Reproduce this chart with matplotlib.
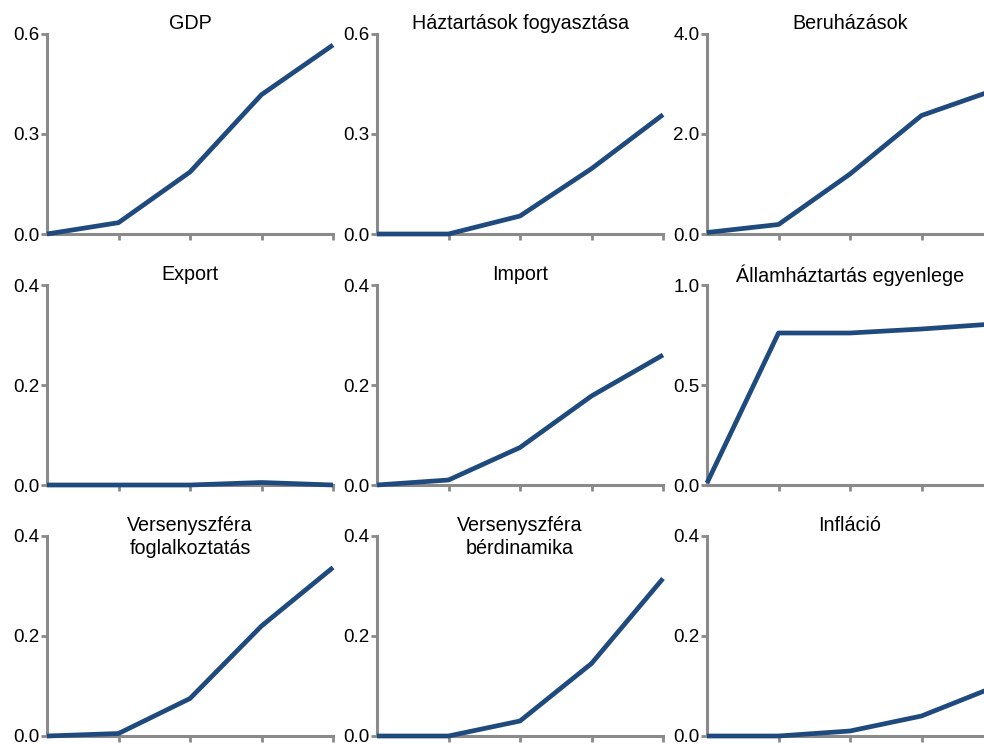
import numpy as np
import matplotlib.pyplot as plt

plt.rcParams['font.family'] = ['Liberation Sans', 'DejaVu Sans']

titles = ['GDP', 'Háztartások fogyasztása', 'Beruházások',
          'Export', 'Import', 'Államháztartás egyenlege',
          'Versenyszféra\nfoglalkoztatás', 'Versenyszféra\nbérdinamika', 'Infláció']

gdp = [0.0, 0.034, 0.186, 0.418, 0.567]
haztartas = [0.0, 0.0, 0.054, 0.196, 0.358]
beruhazas = [0.03, 0.19, 1.2, 2.37, 2.87]
export = [0.0, 0.0, 0.0, 0.005, 0.0]
imp = [0.0, 0.01, 0.075, 0.178, 0.26]
allamhaz = [0.01, 0.76, 0.76, 0.78, 0.805]
foglalk = [0.0, 0.005, 0.075, 0.22, 0.337]
berdin = [0.0, 0.0, 0.03, 0.145, 0.315]
inflacio = [0.0, 0.0, 0.01, 0.04, 0.097]

series = [gdp, haztartas, beruhazas, export, imp, allamhaz, foglalk, berdin, inflacio]
ymax = [0.6, 0.6, 4.0, 0.4, 0.4, 1.0, 0.4, 0.4, 0.4]

W, H = 984, 744
fig = plt.figure(figsize=(W / 100, H / 100), dpi=100)

lefts = [47, 377, 707]
tops = [34, 285, 536]
aw, ah = 286, 200
line_col = '#1f4a7e'
grey = '#8a8a8a'

for i, (title, vals, top) in enumerate(zip(titles, series, ymax)):
    r, c = divmod(i, 3)
    ax = fig.add_axes([lefts[c] / W, (H - tops[r] - ah) / H, aw / W, ah / H])
    x = np.arange(len(vals))
    ax.plot(x, vals, color=line_col, lw=3.4, solid_capstyle='butt',
            clip_on=False, zorder=3)
    ax.set_xlim(0, 4)
    ax.set_ylim(0, top)
    ax.set_yticks([0, top / 2, top])
    ax.set_yticklabels([f'{v:.1f}' for v in [0, top / 2, top]])
    ax.set_xticks([1, 2, 3, 4])
    ax.set_xticklabels([])
    for s in ['top', 'right']:
        ax.spines[s].set_visible(False)
    for s in ['left', 'bottom']:
        ax.spines[s].set_color(grey)
        ax.spines[s].set_linewidth(2.2)
    ax.tick_params(axis='both', colors=grey, width=2, length=4, labelcolor='black',
                   labelsize=13.5, direction='out')
    ax.tick_params(axis='y', pad=1.5)
    ax.text(0.5, 1.1, title, transform=ax.transAxes, ha='center', va='top',
            fontsize=14.2, linespacing=1.3)

fig.savefig('out.png', dpi=100)
